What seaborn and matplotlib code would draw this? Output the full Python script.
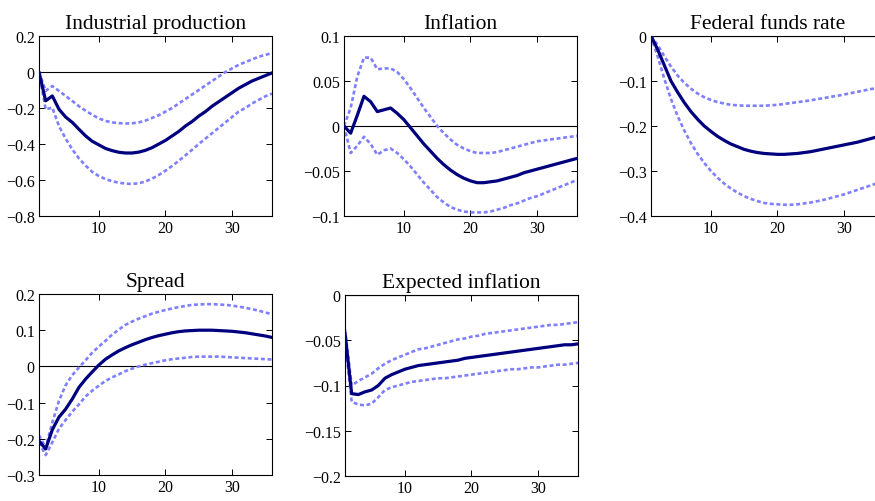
import numpy as np
import pandas as pd
import matplotlib
matplotlib.use("Agg")
import matplotlib.pyplot as plt
import seaborn as sns
from matplotlib.ticker import FuncFormatter

# horizon (months)
horizon = list(range(1, 37))

titles = ["Industrial production", "Inflation", "Federal funds rate",
          "Spread", "Expected inflation"]

# Industrial production
ip_mid = [0, -0.16, -0.133, -0.207, -0.25, -0.28, -0.318, -0.355, -0.385, -0.405,
          -0.425, -0.437, -0.446, -0.45, -0.45, -0.445, -0.435, -0.42, -0.40, -0.38,
          -0.355, -0.33, -0.30, -0.275, -0.245, -0.22, -0.19, -0.165, -0.14, -0.115,
          -0.09, -0.07, -0.05, -0.035, -0.02, -0.005]
ip_up = [0, -0.105, -0.078, -0.105, -0.133, -0.161, -0.19, -0.215, -0.238, -0.258,
         -0.272, -0.28, -0.284, -0.286, -0.285, -0.28, -0.27, -0.255, -0.24, -0.22,
         -0.2, -0.175, -0.15, -0.125, -0.1, -0.075, -0.05, -0.025, 0.0, 0.02,
         0.04, 0.055, 0.07, 0.085, 0.095, 0.105]
ip_lo = [0, -0.207, -0.198, -0.3, -0.37, -0.43, -0.48, -0.52, -0.555, -0.578,
         -0.595, -0.607, -0.615, -0.62, -0.622, -0.618, -0.608, -0.592, -0.572, -0.548,
         -0.522, -0.493, -0.463, -0.432, -0.4, -0.37, -0.34, -0.31, -0.28, -0.25,
         -0.22, -0.2, -0.175, -0.155, -0.135, -0.12]

# Inflation
inf_mid = [0, -0.008, 0.012, 0.033, 0.027, 0.016, 0.018, 0.02, 0.014, 0.007,
           -0.002, -0.011, -0.02, -0.028, -0.036, -0.043, -0.049, -0.054, -0.058, -0.061,
           -0.063, -0.063, -0.062, -0.061, -0.059, -0.057, -0.055, -0.052, -0.05, -0.048,
           -0.046, -0.044, -0.042, -0.04, -0.038, -0.036]
inf_up = [0, 0.02, 0.055, 0.076, 0.076, 0.063, 0.064, 0.064, 0.06, 0.052,
          0.042, 0.031, 0.02, 0.01, 0.0, -0.008, -0.015, -0.021, -0.025, -0.028,
          -0.03, -0.03, -0.03, -0.029, -0.027, -0.025, -0.023, -0.021, -0.019, -0.017,
          -0.016, -0.015, -0.014, -0.013, -0.012, -0.011]
inf_lo = [0, -0.03, -0.022, -0.012, -0.02, -0.032, -0.027, -0.025, -0.03, -0.037,
          -0.045, -0.054, -0.063, -0.071, -0.079, -0.085, -0.09, -0.093, -0.095, -0.096,
          -0.096, -0.096, -0.095, -0.093, -0.091, -0.088, -0.086, -0.083, -0.08, -0.078,
          -0.075, -0.072, -0.069, -0.066, -0.063, -0.06]

# Federal funds rate
ffr_mid = [0, -0.03, -0.065, -0.1, -0.125, -0.148, -0.168, -0.185, -0.2, -0.212,
           -0.223, -0.232, -0.24, -0.246, -0.252, -0.256, -0.259, -0.261, -0.262, -0.263,
           -0.263, -0.262, -0.261, -0.259, -0.257, -0.254, -0.251, -0.248, -0.245, -0.242,
           -0.239, -0.236, -0.232, -0.228, -0.224, -0.22]
ffr_up = [0, -0.02, -0.045, -0.068, -0.088, -0.104, -0.117, -0.128, -0.136, -0.142,
          -0.147, -0.15, -0.153, -0.154, -0.155, -0.155, -0.155, -0.155, -0.154, -0.153,
          -0.151, -0.149, -0.147, -0.145, -0.143, -0.14, -0.138, -0.135, -0.133, -0.13,
          -0.127, -0.124, -0.121, -0.118, -0.116, -0.113]
ffr_lo = [0, -0.045, -0.095, -0.14, -0.178, -0.21, -0.238, -0.262, -0.282, -0.3,
          -0.315, -0.328, -0.339, -0.348, -0.356, -0.362, -0.367, -0.371, -0.373, -0.374,
          -0.375, -0.375, -0.374, -0.372, -0.37, -0.367, -0.364, -0.36, -0.356, -0.352,
          -0.347, -0.342, -0.337, -0.332, -0.327, -0.322]

# Spread
spr_mid = [-0.206, -0.228, -0.175, -0.14, -0.118, -0.09, -0.058, -0.035, -0.015, 0.004,
           0.02, 0.032, 0.043, 0.052, 0.06, 0.067, 0.074, 0.08, 0.085, 0.089,
           0.093, 0.096, 0.098, 0.099, 0.1, 0.1, 0.1, 0.099, 0.098, 0.097,
           0.095, 0.093, 0.09, 0.087, 0.084, 0.08]
spr_up = [-0.19, -0.225, -0.155, -0.095, -0.052, -0.024, -0.003, 0.017, 0.038, 0.055,
          0.071, 0.088, 0.102, 0.115, 0.124, 0.132, 0.139, 0.146, 0.151, 0.156,
          0.16, 0.164, 0.167, 0.17, 0.171, 0.172, 0.172, 0.171, 0.17, 0.168,
          0.165, 0.162, 0.158, 0.154, 0.149, 0.144]
spr_lo = [-0.21, -0.245, -0.21, -0.172, -0.148, -0.125, -0.105, -0.083, -0.067, -0.053,
          -0.04, -0.03, -0.022, -0.013, -0.006, 0.0, 0.005, 0.009, 0.013, 0.017,
          0.02, 0.022, 0.024, 0.026, 0.027, 0.027, 0.027, 0.027, 0.026, 0.025,
          0.024, 0.023, 0.022, 0.021, 0.02, 0.019]

# Expected inflation
exp_mid = [-0.042, -0.109, -0.11, -0.107, -0.105, -0.1, -0.092, -0.088, -0.085, -0.082,
           -0.08, -0.078, -0.077, -0.076, -0.075, -0.074, -0.073, -0.072, -0.07, -0.069,
           -0.068, -0.067, -0.066, -0.065, -0.064, -0.063, -0.062, -0.061, -0.06, -0.059,
           -0.058, -0.057, -0.056, -0.055, -0.055, -0.054]
exp_up = [-0.038, -0.1, -0.095, -0.091, -0.087, -0.081, -0.076, -0.072, -0.069, -0.066,
          -0.063, -0.06, -0.059, -0.057, -0.055, -0.053, -0.051, -0.049, -0.048, -0.046,
          -0.045, -0.043, -0.042, -0.041, -0.04, -0.039, -0.038, -0.037, -0.036, -0.035,
          -0.034, -0.033, -0.033, -0.032, -0.031, -0.03]
exp_lo = [-0.048, -0.118, -0.121, -0.122, -0.12, -0.113, -0.105, -0.102, -0.1, -0.098,
          -0.096, -0.095, -0.094, -0.093, -0.092, -0.092, -0.091, -0.09, -0.089, -0.088,
          -0.087, -0.086, -0.085, -0.084, -0.083, -0.082, -0.082, -0.081, -0.08, -0.08,
          -0.079, -0.078, -0.077, -0.077, -0.076, -0.075]

series = [(ip_mid, ip_up, ip_lo), (inf_mid, inf_up, inf_lo), (ffr_mid, ffr_up, ffr_lo),
          (spr_mid, spr_up, spr_lo), (exp_mid, exp_up, exp_lo)]
ylims = [(-0.8, 0.2), (-0.1, 0.1), (-0.4, 0.0), (-0.3, 0.2), (-0.2, 0.0)]
yticks = [[-0.8, -0.6, -0.4, -0.2, 0, 0.2],
          [-0.1, -0.05, 0, 0.05, 0.1],
          [-0.4, -0.3, -0.2, -0.1, 0],
          [-0.3, -0.2, -0.1, 0, 0.1, 0.2],
          [-0.2, -0.15, -0.1, -0.05, 0]]

sns.set_style("ticks")
plt.rcParams["font.family"] = ["Liberation Serif", "DejaVu Serif"]
plt.rcParams["xtick.direction"] = "in"
plt.rcParams["ytick.direction"] = "in"

W, H = 875, 502
fig = plt.figure(figsize=(W / 100, H / 100), dpi=100)

# axes boxes in pixels: left, top, right, bottom
boxes = [(39, 37, 272, 217), (344, 37, 577, 217), (651, 37, 884, 217),
         (39, 295, 272, 476), (345, 296, 578, 477)]

fmt = FuncFormatter(lambda v, p: ("%g" % round(v, 4)).replace("-", "\u2212"))

for i, (mid, up, lo) in enumerate(series):
    l, t, r, b = boxes[i]
    ax = fig.add_axes([l / W, 1 - b / H, (r - l) / W, (b - t) / H])
    ax.axhline(0, color="black", lw=0.8, zorder=1)
    df = pd.DataFrame({"h": horizon, "mid": mid, "up": up, "lo": lo})
    for col in ["up", "lo"]:
        sns.lineplot(data=df, x="h", y=col, ax=ax, color="#7f7fff", lw=1.9,
                     linestyle=(0, (1.5, 1.0)), zorder=2)
    sns.lineplot(data=df, x="h", y="mid", ax=ax, color="#00007f", lw=2.3, zorder=3)
    ax.set_xlim(1, 36)
    ax.set_ylim(*ylims[i])
    ax.set_xticks([10, 20, 30])
    ax.set_yticks(yticks[i])
    ax.yaxis.set_major_formatter(fmt)
    ax.set_xlabel("")
    ax.set_ylabel("")
    ax.set_title(titles[i], fontsize=15.5, pad=6, color="black")
    ax.tick_params(top=True, right=True, length=4, width=0.7, labelsize=11.5,
                   colors="black", pad=3)
    for s in ax.spines.values():
        s.set_visible(True)
        s.set_color("black")
        s.set_linewidth(0.8)

fig.savefig("out.png", dpi=100)
